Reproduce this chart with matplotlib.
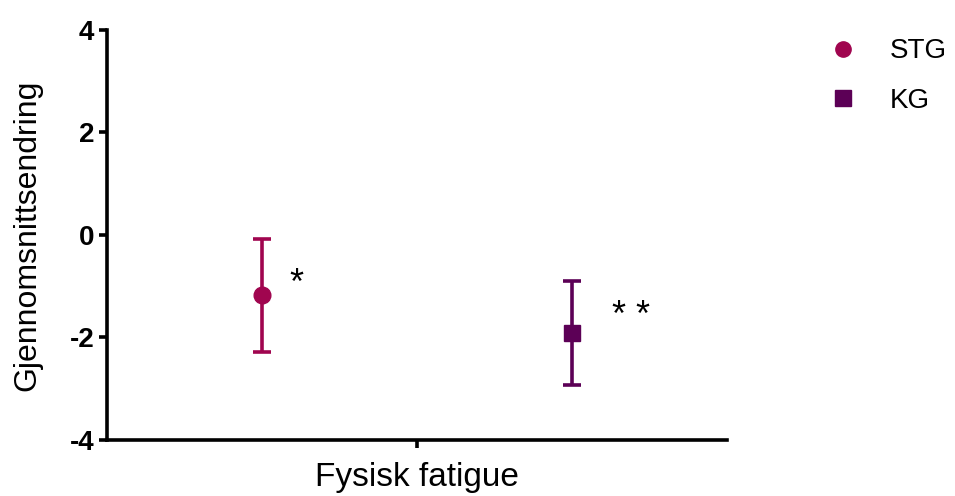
import matplotlib
matplotlib.use("Agg")
import matplotlib.pyplot as plt
from matplotlib.lines import Line2D

plt.rcParams['font.family'] = ['Liberation Sans', 'DejaVu Sans']
plt.rcParams['axes.unicode_minus'] = False

groups = ["STG", "KG"]
x_pos = [0.5, 1.5]
means = [-1.18, -1.92]
lower = [-2.28, -2.92]
upper = [-0.08, -0.90]
stars = ["*", "* *"]
colors = ["#A0054F", "#5C0056"]
markers = ["o", "s"]
category = "Fysisk fatigue"

fig = plt.figure(figsize=(9.55, 4.96), dpi=100)
ax = fig.add_axes([0.112, 0.113, 0.649, 0.827])

for x, m, lo, hi, c, mk in zip(x_pos, means, lower, upper, colors, markers):
    ax.errorbar([x], [m], yerr=[[m - lo], [hi - m]], fmt=mk, color=c,
                markersize=12, elinewidth=2.6, capsize=6.5, capthick=2.6)

# significance marks next to each group
ax.text(x_pos[0] + 0.11, means[0] + 0.22, stars[0], fontsize=26,
        ha='center', va='center')
ax.text(x_pos[1] + 0.19, means[1] + 0.32, stars[1], fontsize=26,
        ha='center', va='center')

ax.set_xlim(0, 2)
ax.set_ylim(-4, 4)
ax.set_yticks([-4, -2, 0, 2, 4])
ax.set_xticks([1])
ax.set_xticklabels([category], fontsize=24)
ax.set_ylabel("Gjennomsnittsendring", fontsize=23, labelpad=20)

for lbl in ax.get_yticklabels():
    lbl.set_fontweight('bold')
    lbl.set_fontsize(20)

ax.spines['top'].set_visible(False)
ax.spines['right'].set_visible(False)
ax.spines['left'].set_linewidth(2.6)
ax.spines['bottom'].set_linewidth(2.6)
ax.tick_params(axis='y', width=2.6, length=6, pad=3)
ax.tick_params(axis='x', width=2.6, length=6, pad=10)

handles = [Line2D([], [], linestyle='none', marker=mk, color=c, markersize=11)
           for mk, c in zip(markers, colors)]
ax.legend(handles, groups, loc='upper left', bbox_to_anchor=(1.12, 1.04),
          frameon=False, fontsize=20, handletextpad=1.1, labelspacing=0.85,
          handlelength=1.2)

fig.savefig("out.png", dpi=100, facecolor='white')
